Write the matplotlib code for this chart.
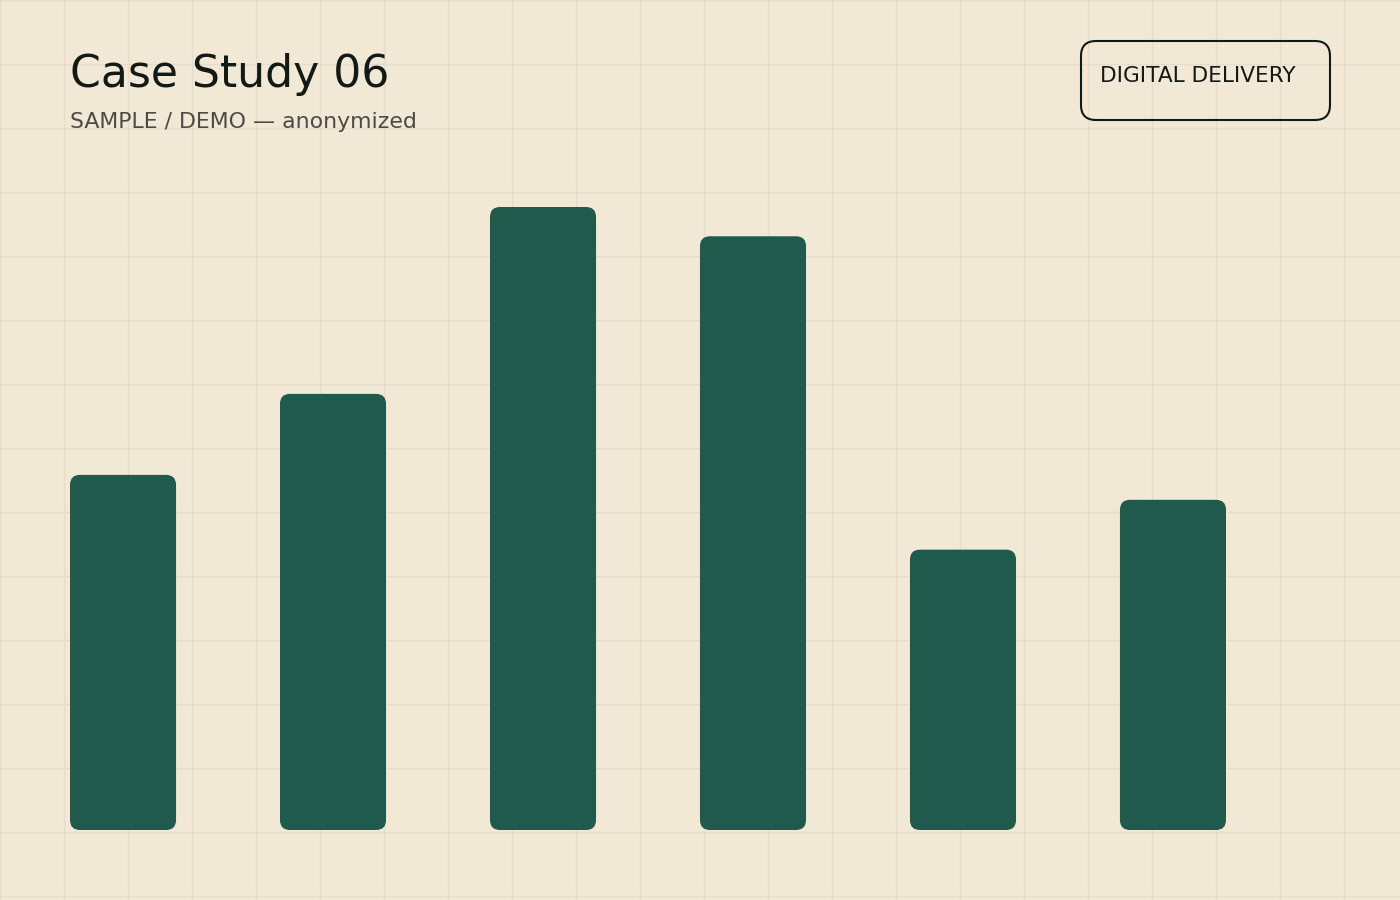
#!/usr/bin/env python3
"""Case study bar card: rounded bars on a gridded paper background."""
import matplotlib

matplotlib.use("Agg")
import matplotlib.pyplot as plt
import numpy as np
from matplotlib.patches import FancyBboxPatch

W, H = 1400, 900
BG = "#f2e8d6"
GRID = "#e6dccb"
BAR = "#1f5a4d"
INK = "#121a16"
MUTED = "#4b4b45"

TITLE = "Case Study 06"
SUBTITLE = "SAMPLE / DEMO \u2014 anonymized"
BADGE = "DIGITAL DELIVERY"

categories = ["A", "B", "C", "D", "E", "F"]
values = [57, 70, 100, 95.3, 45, 53]

fig = plt.figure(figsize=(W / 100, H / 100), dpi=100, facecolor=BG)

# background in pixel coords, with the 64 px paper grid
bg = fig.add_axes([0, 0, 1, 1])
bg.set_xlim(0, W)
bg.set_ylim(H, 0)
bg.set_facecolor(BG)
bg.set_axisbelow(True)
bg.set_xticks(np.arange(0, W + 1, 64))
bg.set_yticks(np.arange(0, H + 1, 64))
bg.grid(True, color=GRID, lw=1, zorder=0)
bg.tick_params(length=0, labelbottom=False, labelleft=False)
for s in bg.spines.values():
    s.set_visible(False)

bg.text(70, 75, TITLE, fontsize=31.8, color=INK, va="center", ha="left")
bg.text(70, 122, SUBTITLE, fontsize=15.8, color=MUTED, va="center", ha="left")

badge = FancyBboxPatch((1081, 41), 249, 79,
                       boxstyle="round,pad=0,rounding_size=15",
                       fc="none", ec=INK, lw=1.5, zorder=3)
bg.add_patch(badge)
bg.text(1100, 76, BADGE, fontsize=15.6, color=INK, va="center", ha="left", zorder=3)

# bar axes: 70..1226 px wide, baseline at y=830, top of max bar at y=207
left, right, top, bottom = 70, 1226, 207, 830
ax = fig.add_axes([left / W, (H - bottom) / H, (right - left) / W, (bottom - top) / H])
ax.set_axis_off()
width = 0.505
x = np.arange(len(categories))
ax.set_xlim(-width / 2, len(categories) - 1 + width / 2)
ax.set_ylim(0, max(values))

bars = ax.bar(x, values, width=width, color=BAR)
px_per_x = (right - left) / (len(categories) - 1 + width)
px_per_y = (bottom - top) / max(values)
radius_px = 10
for rect in bars:
    rect.set_visible(False)
    fb = FancyBboxPatch((rect.get_x(), rect.get_y()), rect.get_width(), rect.get_height(),
                        boxstyle=f"round,pad=0,rounding_size={radius_px / px_per_x}",
                        mutation_aspect=px_per_x / px_per_y,
                        fc=BAR, ec="none", clip_on=False)
    ax.add_patch(fb)

fig.savefig("out.png", dpi=100, facecolor=BG)
